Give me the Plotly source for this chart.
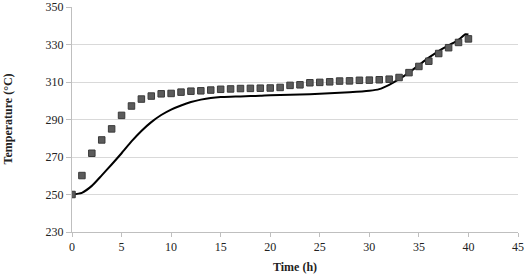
import plotly.graph_objects as go

# Experimental (markers) data
exp_time = list(range(0, 41))
exp_temp = [250.0, 260.1, 272.0, 279.1, 285.0, 292.2, 297.2, 300.9, 302.5, 303.7,
            303.9, 304.6, 305.1, 305.3, 305.7, 306.1, 306.3, 306.5, 306.6, 306.7,
            306.8, 307.1, 308.2, 308.5, 309.6, 309.8, 310.1, 310.5, 310.6, 310.9,
            311.0, 311.2, 311.5, 312.4, 315.0, 318.3, 321.1, 325.2, 328.3, 331.1,
            333.0]

# Simulated (line) data
sim_time = [0, 1, 2, 3, 4, 5, 6, 7, 8, 9, 10, 11, 12, 13, 14, 15, 16, 17, 18, 19,
            20, 22, 24, 26, 28, 30, 31, 32, 33, 34, 35, 36, 37, 38, 39, 39.7, 40]
sim_temp = [250.0, 250.9, 254.6, 260.2, 266.0, 272.0, 278.3, 283.9, 288.6, 292.4,
            295.3, 297.5, 299.3, 300.6, 301.5, 302.0, 302.2, 302.3, 302.5, 302.7,
            303.0, 303.2, 303.5, 304.0, 304.5, 305.3, 306.2, 308.5, 311.5, 315.0,
            319.0, 323.0, 326.5, 329.5, 332.5, 335.5, 335.3]

x_ticks = [0, 5, 10, 15, 20, 25, 30, 35, 40, 45]
y_ticks = [230, 250, 270, 290, 310, 330, 350]

x_title = "Time (h)"
y_title = "Temperature (°C)"

font_family = "Liberation Serif, Times New Roman, serif"
txt_color = "#222222"

fig = go.Figure()
fig.add_trace(go.Scatter(
    x=sim_time, y=sim_temp, mode="lines",
    line=dict(color="black", width=2, shape="spline", smoothing=0.6),
    showlegend=False, hoverinfo="skip"))
fig.add_trace(go.Scatter(
    x=exp_time, y=exp_temp, mode="markers",
    marker=dict(symbol="square", size=6.5, color="#5b5b5b",
                line=dict(color="#3a3a3a", width=1)),
    showlegend=False))

fig.update_layout(
    width=526, height=275,
    margin=dict(l=72, r=8, t=7, b=43, autoexpand=False),
    paper_bgcolor="white", plot_bgcolor="white",
    font=dict(family=font_family, size=12, color=txt_color),
    xaxis=dict(
        range=[0, 45], tickvals=x_ticks, showgrid=False, zeroline=False,
        showline=True, linecolor="#bfbfbf", linewidth=1, automargin=False,
        ticks="outside", ticklen=4, tickcolor="#bfbfbf",
        tickfont=dict(family=font_family, size=12, color=txt_color)),
    yaxis=dict(
        range=[230, 350], tickvals=y_ticks, showgrid=True, gridcolor="#d9d9d9",
        gridwidth=1, zeroline=False, showline=True, linecolor="#bfbfbf", linewidth=1,
        ticks="outside", ticklen=5, tickcolor="#bfbfbf", automargin=False,
        tickfont=dict(family=font_family, size=12, color=txt_color)),
    annotations=[
        dict(text="<b>" + x_title + "</b>", xref="paper", yref="paper",
             x=0.5, y=0, xanchor="center", yanchor="middle", yshift=-35,
             showarrow=False, font=dict(family=font_family, size=12, color=txt_color)),
        dict(text="<b>" + y_title + "</b>", xref="paper", yref="paper",
             x=0, y=0.5, xanchor="center", yanchor="middle", xshift=-65,
             textangle=-90, showarrow=False,
             font=dict(family=font_family, size=12, color=txt_color)),
    ],
)

fig.write_html("out.html",
               config={"displayModeBar": False},
               post_script="document.body.style.margin='0';document.body.style.overflow='hidden';")
